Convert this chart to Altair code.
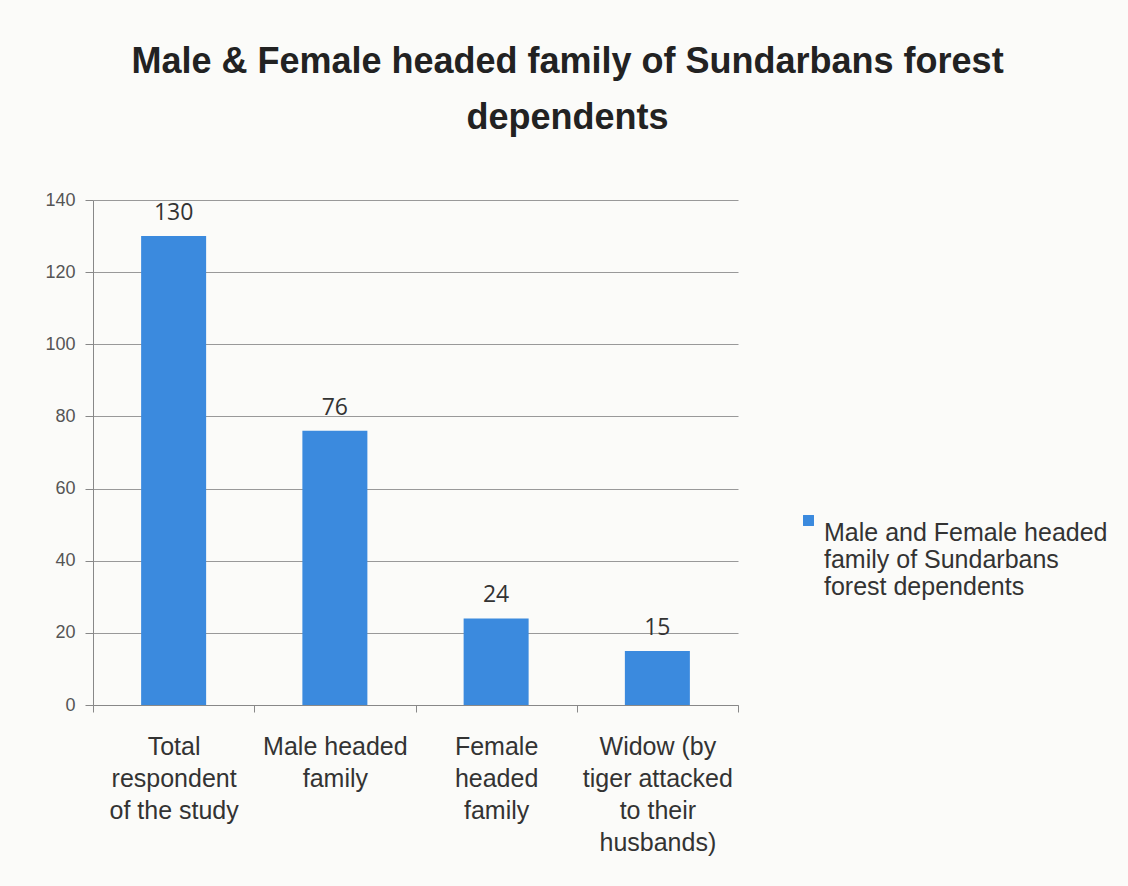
import altair as alt
import pandas as pd

categories = ["Total|respondent|of the study", "Male headed|family", "Female|headed|family", "Widow (by|tiger attacked|to their|husbands)"]
values = [130, 76, 24, 15]
series = "Male and Female headed family of Sundarbans forest dependents"

df = pd.DataFrame({"cat": categories, "val": values, "series": [series] * 4})

x = alt.X("cat:N", sort=categories, title=None,
          scale=alt.Scale(paddingInner=0, paddingOuter=0),
          axis=alt.Axis(labelExpr="split(datum.label, '|')", labelAngle=0,
                        labelFont="Liberation Sans", labelFontSize=25, labelColor="#333333",
                        labelPadding=22, labelLineHeight=32, tickBand="extent", tickSize=7,
                        domainColor="#888888", tickColor="#888888", grid=False))
y = alt.Y("val:Q", title=None, scale=alt.Scale(domain=[0, 140]),
          axis=alt.Axis(values=[0, 20, 40, 60, 80, 100, 120, 140], labelFont="Liberation Sans",
                        labelFontSize=18, labelColor="#555555", labelPadding=10, tickSize=8,
                        domainColor="#888888", tickColor="#888888", gridColor="#999999",
                        gridWidth=1))

bars = alt.Chart(df).mark_bar(size=65).encode(
    x=x, y=y,
    color=alt.Color("series:N", scale=alt.Scale(range=["#3b8ade"]), title=None,
                    legend=alt.Legend(orient="none", legendX=703, legendY=308,
                                      symbolType="square", symbolSize=120,
                                      labelFont="Liberation Sans", labelFontSize=25,
                                      labelColor="#333333", labelLimit=400,
                                      labelExpr="['Male and Female headed', 'family of Sundarbans', 'forest dependents']",
                                      labelBaseline="top", labelOffset=3))
)
text = alt.Chart(df).mark_text(dy=-23, font="Open Sans", fontSize=23, color="#333333").encode(
    x=alt.X("cat:N", sort=categories), y="val:Q", text="val:Q")

chart = (bars + text).properties(
    width=645, height=505,
    title=alt.TitleParams(["Male & Female headed family of Sundarbans forest", "dependents"],
                          font="Liberation Sans", fontSize=36, fontWeight="bold", color="#222222",
                          lineHeight=56, dx=152, offset=54, anchor="middle"),
    padding={"left": 93, "top": 200, "right": 390, "bottom": 181},
    autosize=alt.AutoSizeParams(type="none"),
    background="#fbfbf9",
).configure_view(stroke=None)

chart.save("out.html", embed_options={"renderer": "svg", "actions": False})
